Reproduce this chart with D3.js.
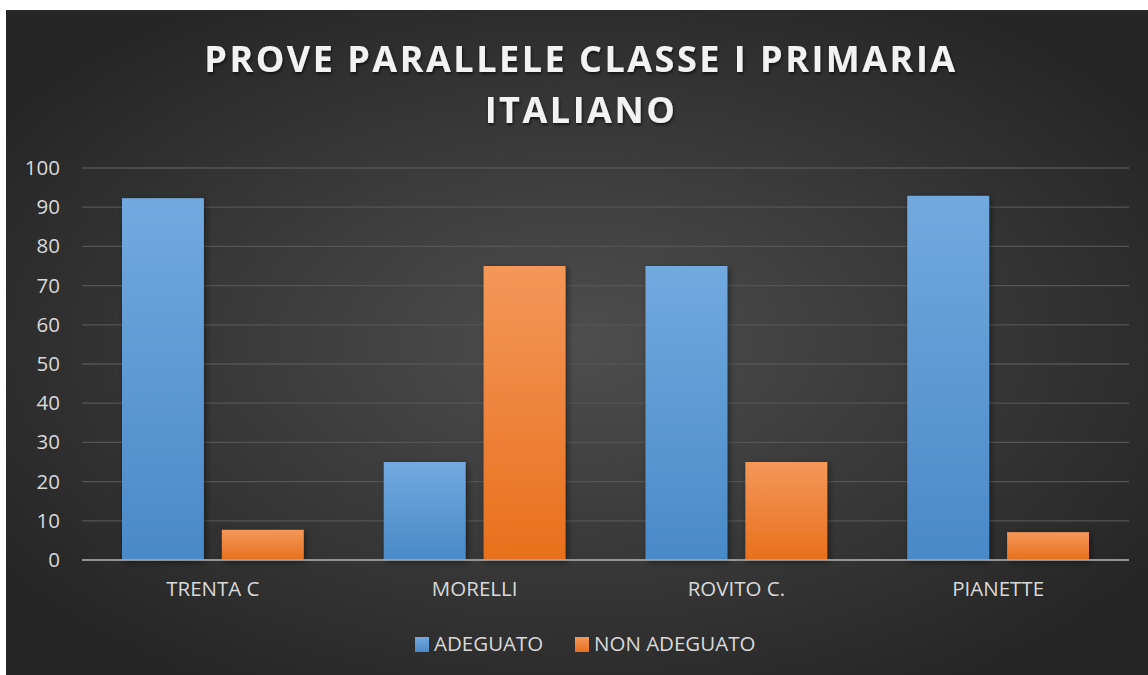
<!DOCTYPE html>
<meta charset="utf-8">
<script src="https://cdn.jsdelivr.net/npm/d3@7"></script>
<style>
body { margin: 0; background: #fff; }
.tick text { font-family: "Open Sans", sans-serif; fill: #d9d9d9; }
</style>
<div id="chart"></div>
<script>
var categories = ["TRENTA C", "MORELLI", "ROVITO C.", "PIANETTE"];
var seriesNames = ["ADEGUATO", "NON ADEGUATO"];
var adeguato = [92.3, 25, 75, 92.9];
var nonAdeguato = [7.7, 75, 25, 7.1];
var yTicks = [0, 10, 20, 30, 40, 50, 60, 70, 80, 90, 100];
var titleLines = ["PROVE PARALLELE CLASSE I PRIMARIA", "ITALIANO"];

var W = 1148, H = 675;
var margin = {top: 168, right: 19, bottom: 115, left: 82};
var width = W - margin.left - margin.right,
    height = H - margin.top - margin.bottom;

var svg = d3.select("#chart").append("svg")
    .attr("width", W).attr("height", H);

var defs = svg.append("defs");
var bg = defs.append("radialGradient").attr("id", "bg")
    .attr("cx", "50%").attr("cy", "50%").attr("r", "60%");
bg.append("stop").attr("offset", "0%").attr("stop-color", "#4e4e4e");
bg.append("stop").attr("offset", "100%").attr("stop-color", "#262626");

var colors = [["#72a9df", "#4a89c8"], ["#f4975a", "#e8701c"]];
colors.forEach(function(c, i) {
  var g = defs.append("linearGradient").attr("id", "bar" + i)
      .attr("x1", 0).attr("y1", 0).attr("x2", 0).attr("y2", 1);
  g.append("stop").attr("offset", "0%").attr("stop-color", c[0]);
  g.append("stop").attr("offset", "100%").attr("stop-color", c[1]);
});
var sh = defs.append("filter").attr("id", "shadow")
    .attr("x", "-20%").attr("y", "-20%").attr("width", "150%").attr("height", "150%");
sh.append("feDropShadow").attr("dx", 2).attr("dy", 2).attr("stdDeviation", 3)
    .attr("flood-color", "#000").attr("flood-opacity", 0.45);
var tsh = defs.append("filter").attr("id", "tshadow");
tsh.append("feDropShadow").attr("dx", 1).attr("dy", 2).attr("stdDeviation", 1.5)
    .attr("flood-color", "#000").attr("flood-opacity", 0.6);

svg.append("rect").attr("x", 6).attr("y", 10)
    .attr("width", W - 6).attr("height", H - 10).attr("fill", "url(#bg)");

svg.append("text")
    .attr("x", 581).attr("y", 72)
    .attr("text-anchor", "middle")
    .attr("font-family", "'Open Sans', sans-serif")
    .attr("font-weight", "bold").attr("font-size", 36)
    .attr("letter-spacing", 2.5)
    .attr("fill", "#f2f2f2").attr("filter", "url(#tshadow)")
    .selectAll("tspan").data(titleLines).enter().append("tspan")
    .attr("x", 581).attr("dy", function(d, i) { return i ? 51 : 0; })
    .text(function(d) { return d; });

var g = svg.append("g")
    .attr("transform", "translate(" + margin.left + "," + margin.top + ")");

var x0 = d3.scaleBand().domain(categories).range([0, width]).paddingInner(0).paddingOuter(0);
var x1 = d3.scaleBand().domain(seriesNames).range([40, x0.bandwidth() - 40]).paddingInner(0.18);
var y = d3.scaleLinear().domain([0, 100]).range([height, 0]);

// gridlines
g.selectAll(".grid").data(yTicks.slice(1)).enter().append("line")
    .attr("x1", 0).attr("x2", width)
    .attr("y1", function(d) { return y(d); }).attr("y2", function(d) { return y(d); })
    .attr("stroke", "#555").attr("stroke-width", 1.3);

// y axis labels
var yAxis = g.append("g").call(d3.axisLeft(y).tickValues(yTicks).tickSize(0));
yAxis.select(".domain").remove();
yAxis.selectAll("text").attr("font-size", 20.5).attr("text-anchor", "end")
    .attr("x", -22);

var data = categories.map(function(c, i) {
  return {cat: c, vals: [adeguato[i], nonAdeguato[i]]};
});

var groups = g.selectAll(".grp").data(data).enter().append("g")
    .attr("transform", function(d) { return "translate(" + x0(d.cat) + ",0)"; });
groups.selectAll("rect").data(function(d) {
    return d.vals.map(function(v, i) { return {s: seriesNames[i], v: v, i: i}; });
  }).enter().append("rect")
    .attr("x", function(d) { return x1(d.s); })
    .attr("width", x1.bandwidth())
    .attr("y", function(d) { return y(d.v); })
    .attr("height", function(d) { return height - y(d.v); })
    .attr("fill", function(d) { return "url(#bar" + d.i + ")"; })
    .attr("filter", "url(#shadow)");

// zero line
g.append("line").attr("x1", 0).attr("x2", width)
    .attr("y1", y(0)).attr("y2", y(0))
    .attr("stroke", "#a6a6a6").attr("stroke-opacity", 0.85).attr("stroke-width", 2);

// x axis labels
var xAxis = g.append("g").attr("transform", "translate(0," + height + ")")
    .call(d3.axisBottom(x0).tickSize(0).tickPadding(21));
xAxis.select(".domain").remove();
xAxis.selectAll("text").attr("font-size", 20.5);

// legend
var legend = svg.append("g").attr("transform", "translate(415,637)");
var lx = [0, 160];
seriesNames.forEach(function(s, i) {
  var lg = legend.append("g").attr("transform", "translate(" + lx[i] + ",0)");
  lg.append("rect").attr("width", 14).attr("height", 15).attr("fill", "url(#bar" + i + ")");
  lg.append("text").attr("x", 19).attr("y", 14)
      .attr("font-family", "'Open Sans', sans-serif").attr("font-size", 20.5)
      .attr("fill", "#d9d9d9").text(s);
});
</script>
